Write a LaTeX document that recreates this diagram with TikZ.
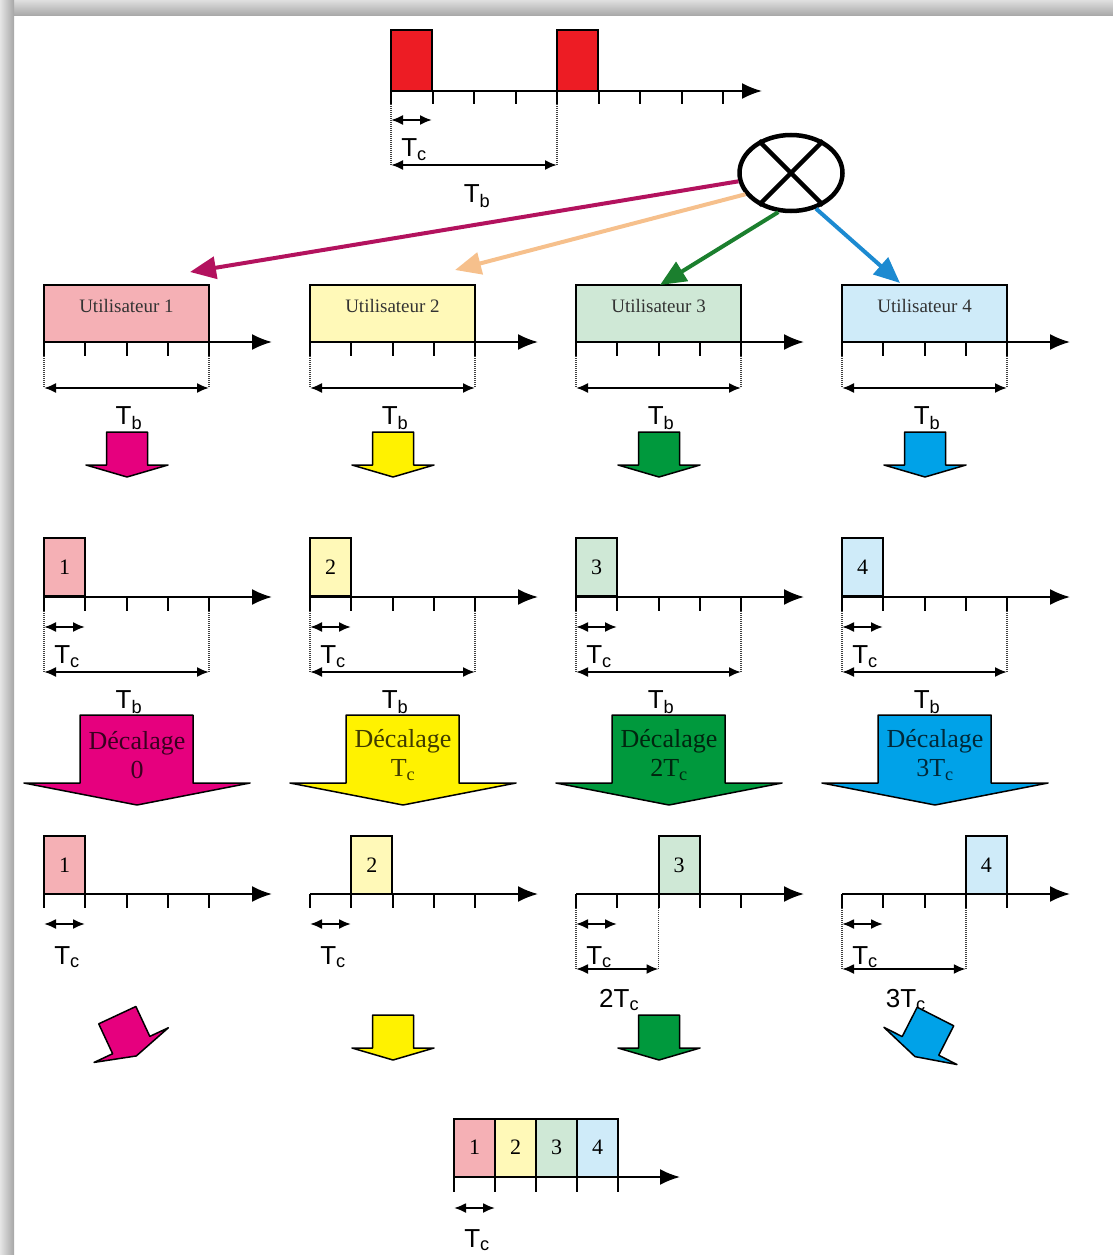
\documentclass[tikz,border=0pt]{standalone}
\usepackage{fontspec}
\setmainfont{Liberation Serif}
\setsansfont{Liberation Sans}
\usetikzlibrary{arrows.meta,shapes.geometric}
\definecolor{pkD}{HTML}{E6007E}
\definecolor{ylD}{HTML}{FFF200}
\definecolor{grD}{HTML}{00993D}
\definecolor{blD}{HTML}{00A2E8}
\definecolor{pkL}{HTML}{F5B0B5}
\definecolor{ylL}{HTML}{FFF9B8}
\definecolor{grL}{HTML}{CFE8D6}
\definecolor{blL}{HTML}{CFEBF9}
\definecolor{cMg}{HTML}{B3125E}
\definecolor{cPe}{HTML}{F6C08C}
\definecolor{cGr}{HTML}{1B7F2E}
\definecolor{cBl}{HTML}{1C8AD1}
\definecolor{pulse}{HTML}{ED1C24}
\begin{document}
\begin{tikzpicture}[x=1pt,y=-1pt,
  axis/.style={line width=2pt,-{Latex[length=20pt,width=16pt]}},
  tickl/.style={line width=2pt},
  dots/.style={line width=1.6pt,dash pattern=on 1pt off 1pt,black!75},
  dbl/.style={line width=2pt,{Latex[length=12pt,width=10pt]}-{Latex[length=12pt,width=10pt]}},
  ubox/.style={draw,line width=2pt,minimum width=165pt,minimum height=57pt,inner sep=0pt},
  utext/.style={inner sep=0pt,text=black!80,font=\fontsize{19}{21}\selectfont},
  nbox/.style={draw,line width=2pt,minimum width=41pt,minimum height=58pt,inner sep=0pt,font=\fontsize{22}{24}\selectfont},
  tlab/.style={inner sep=0pt,font=\sffamily\fontsize{26}{28}\selectfont},
  fatarrow/.style={draw,line width=1.5pt,line join=round},
  dectext/.style={inner sep=0pt,align=center,font=\fontsize{26}{29}\selectfont},
  conn/.style={line width=4pt,-{Triangle[length=26pt,width=22pt]}}]
\useasboundingbox (0,0) rectangle (1113,1255);
% frame
\shade[top color=gray!25,bottom color=gray!70] (0,0) rectangle (1113,16);
\shade[left color=gray!20,right color=gray!70] (0,0) rectangle (14,1255);
% top signal
\node[draw,line width=2pt,fill=pulse,minimum width=41pt,minimum height=61pt,inner sep=0pt] (p1) at (411.5,60.5) {};
\node[draw,line width=2pt,fill=pulse,minimum width=41pt,minimum height=61pt,inner sep=0pt] (p2) at (577.5,60.5) {};
\draw[axis] (391,91) -- (762,91);
\foreach \k in {0,...,8} \draw[tickl] (391+41.5*\k,91) -- ++(0,13);
\draw[dots] (391,104) -- (391,165);
\draw[dots] (557,104) -- (557,165);
\draw[dbl] (391,120) -- (432,120);
\draw[dbl] (391,165) -- (557,165);
\node[tlab] (tc0) at (414,150) {T\textsubscript{c}};
\node[tlab] (tb0) at (477,196) {T\textsubscript{b}};
% multiplier
\node[draw,ellipse,line width=4.5pt,minimum width=103pt,minimum height=76pt,inner sep=0pt] (mult) at (791,173) {};
\draw[line width=4.5pt] (mult.135) -- (mult.-45);
\draw[line width=4.5pt] (mult.45) -- (mult.-135);
% columns
\foreach \i/\c/\l/\dx/\dec/\rot/\ry in {1/pkD/pkL/0/0/25/1036, 2/ylD/ylL/266/{T\textsubscript{c}}/0/1038, 3/grD/grL/532/{2T\textsubscript{c}}/0/1038, 4/blD/blL/798/{3T\textsubscript{c}}/-27/1037}{
\begin{scope}[xshift=\dx pt]
  % row 1
  \node[ubox,fill=\l] (u\i) at (126.5,313.5) {};
  \node[utext] (ut\i) at (126.5,306) {Utilisateur \i};
  \draw[axis] (44,342) -- (272,342);
  \foreach \k in {0,...,4} \draw[tickl] (44+41.25*\k,342) -- ++(0,14);
  \draw[dots] (44,356) -- (44,388);
  \draw[dots] (209,356) -- (209,388);
  \draw[dbl] (44,388) -- (209,388);
  \node[tlab] (tba\i) at (129,418) {T\textsubscript{b}};
  \draw[fatarrow,fill=\c,shift={(127,455)}] (-20.5,-23) -- (20.5,-23) -- (20.5,10) -- (41,10) -- (0,22) -- (-41,10) -- (-20.5,10) -- cycle;
  % row 2
  \node[nbox,fill=\l] (n\i) at (64.5,567) {\i};
  \draw[axis] (44,597) -- (272,597);
  \foreach \k in {0,...,4} \draw[tickl] (44+41.25*\k,597) -- ++(0,14);
  \draw[dots] (44,611) -- (44,672);
  \draw[dots] (209,611) -- (209,672);
  \draw[dbl] (44,627) -- (85,627);
  \draw[dbl] (44,672) -- (209,672);
  \node[tlab] (tcb\i) at (67,657) {T\textsubscript{c}};
  \node[tlab] (tbb\i) at (129,702) {T\textsubscript{b}};
  % big shift arrow
  \draw[fatarrow,fill=\c] (80,715) -- (193,715) -- (193,783) -- (250,783) -- (137,805) -- (24,783) -- (80,783) -- cycle;
  \node[dectext,text=\c!25!black] (dec\i) at (137,755) {D\'ecalage\\\dec};
  % row 3
  \node[nbox,fill=\l] (m\i) at (64.5+41.25*\i-41.25,865) {\i};
  \draw[axis] (44,894) -- (272,894);
  \foreach \k in {0,...,4} \draw[tickl] (44+41.25*\k,894) -- ++(0,14);
  \draw[dbl] (44,924) -- (85,924);
  \node[tlab] (tcc\i) at (67,957) {T\textsubscript{c}};
  \ifnum\i>2
    \draw[dots] (44,908) -- (44,969);
    \draw[dots] (44+41.25*\i-41.25,908) -- (44+41.25*\i-41.25,969);
    \draw[dbl] (44,969) -- (44+41.25*\i-41.25,969);
    \node[tlab] (tsh\i) at (44+20.6*\i-20.6+2,1000) {\dec};
  \fi
  % row 4 small arrows
  \draw[fatarrow,fill=\c,shift={(127,\ry)},rotate=\rot] (-20.5,-23) -- (20.5,-23) -- (20.5,10) -- (41,10) -- (0,22) -- (-41,10) -- (-20.5,10) -- cycle;
\end{scope}
}
% connectors
\coordinate (e1) at (190,272);
\coordinate (e2) at (455,270);
\coordinate (e3) at (660,285);
\coordinate (e4) at (900,283);
\draw[conn,cMg] (mult.189) -- (e1);
\draw[conn,cPe] (mult.205) -- (e2);
\draw[conn,cGr] (mult.252) -- (e3);
\draw[conn,cBl] (mult.305) -- (e4);
% combined signal
\node[nbox,fill=pkL] (f1) at (474.5,1147.5) {1};
\node[nbox,fill=ylL] (f2) at (515.5,1147.5) {2};
\node[nbox,fill=grL] (f3) at (556.5,1147.5) {3};
\node[nbox,fill=blL] (f4) at (597.5,1147.5) {4};
\draw[axis] (454,1177) -- (680,1177);
\foreach \k in {0,...,4} \draw[tickl] (454+41*\k,1177) -- ++(0,15);
\draw[dbl] (454,1208) -- (495,1208);
\node[tlab] (tcf) at (477,1240) {T\textsubscript{c}};
\end{tikzpicture}
\end{document}
